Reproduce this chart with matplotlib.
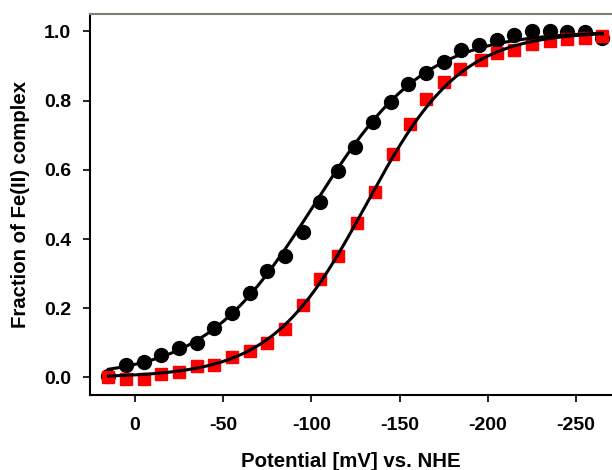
""" Redox titration: fraction of Fe(II) complex vs potential, with Nernst fits """

import numpy as np
import matplotlib.pyplot as plt

plt.rcParams['font.family'] = ['Liberation Sans', 'DejaVu Sans']
plt.rcParams['font.weight'] = 'bold'

# black circles
e_black = [15, 5, -5, -15, -25, -35, -45, -55, -65, -75, -85, -95, -105, -115,
           -125, -135, -145, -155, -165, -175, -185, -195, -205, -215, -225,
           -235, -245, -255, -265]
f_black = [0.005, 0.035, 0.044, 0.066, 0.085, 0.101, 0.142, 0.186, 0.245,
           0.308, 0.352, 0.421, 0.508, 0.598, 0.667, 0.737, 0.797, 0.847,
           0.879, 0.911, 0.945, 0.962, 0.975, 0.990, 1.002, 1.002, 0.997,
           0.997, 0.981]

# red squares
e_red = [15, 5, -5, -15, -25, -35, -45, -55, -65, -75, -85, -95, -105, -115,
         -126, -136, -146, -156, -165, -175, -184, -196, -205, -215, -225,
         -235, -245, -255, -265]
f_red = [0.0, -0.004, -0.004, 0.010, 0.017, 0.032, 0.037, 0.058, 0.077,
         0.099, 0.141, 0.210, 0.285, 0.352, 0.447, 0.535, 0.645, 0.732,
         0.804, 0.854, 0.892, 0.917, 0.937, 0.946, 0.965, 0.973, 0.977,
         0.980, 0.987]

x_ticks = [0, -50, -100, -150, -200, -250]
y_ticks = [0.0, 0.2, 0.4, 0.6, 0.8, 1.0]


def nernst_fit(es, fs):
    # straight line fit in logit space, only well inside (0, 1)
    es = np.asarray(es, float)
    fs = np.asarray(fs, float)
    keep = (fs > 0.05) & (fs < 0.95)
    b, a = np.polyfit(es[keep], np.log(fs[keep] / (1 - fs[keep])), 1)
    xs = np.linspace(es.max(), es.min(), 300)
    return xs, 1 / (1 + np.exp(-(a + b * xs)))


def main():
    fig = plt.figure(figsize=(6.12, 4.70), dpi=100)
    ax = fig.add_axes([0.147, 0.160, 0.853, 0.810])

    ax.plot(e_black, f_black, 'o', color='black', markersize=10, zorder=2)
    ax.plot(e_red, f_red, 's', color='#ff0000', markersize=9, zorder=3)

    for es, fs in ((e_black, f_black), (e_red, f_red)):
        xs, ys = nernst_fit(es, fs)
        ax.plot(xs, ys, color='black', linewidth=2.2, zorder=4)

    ax.set_xlim(25.5, -270.4)
    ax.set_ylim(-0.05, 1.05)
    ax.set_xticks(x_ticks)
    ax.set_xticklabels([str(t) for t in x_ticks])
    ax.set_yticks(y_ticks)
    ax.set_yticklabels(['%.1f' % t for t in y_ticks])
    ax.tick_params(labelsize=14, width=1.2, length=5)
    ax.tick_params(axis='x', pad=11)
    ax.tick_params(axis='y', pad=8.4)

    ax.spines['right'].set_visible(False)
    ax.spines['top'].set_color('#7d7f6e')
    for s in ('left', 'bottom', 'top'):
        ax.spines[s].set_linewidth(1.5)

    ax.set_xlabel('Potential [mV] vs. NHE', fontsize=14.7, fontweight='bold',
                  labelpad=13)
    ax.set_ylabel('Fraction of Fe(II) complex', fontsize=14.7,
                  fontweight='bold', labelpad=10)

    fig.savefig('out.png', dpi=100)


if __name__ == '__main__':
    main()
